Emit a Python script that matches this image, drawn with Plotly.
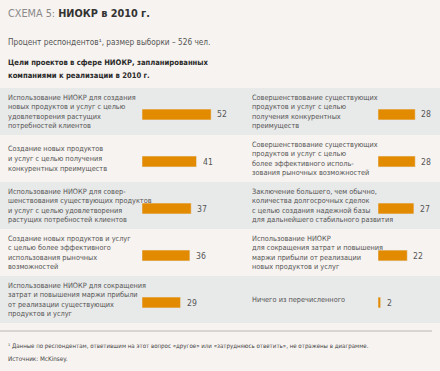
import plotly.graph_objects as go

W, H = 440, 371

left_labels = [
    "Использование НИОКР для создания<br>новых продуктов и услуг с целью<br>удовлетворения растущих<br>потребностей клиентов",
    "Создание новых продуктов<br>и услуг с целью получения<br>конкурентных преимуществ",
    "Использование НИОКР для совер-<br>шенствования существующих продуктов<br>и услуг с целью удовлетворения<br>растущих потребностей клиентов",
    "Создание новых продуктов и услуг<br>с целью более эффективного<br>использования рыночных<br>возможностей",
    "Использование НИОКР для сокращения<br>затрат и повышения маржи прибыли<br>от реализации существующих<br>продуктов и услуг",
]
left_values = [52, 41, 37, 36, 29]

right_labels = [
    "Совершенствование существующих<br>продуктов и услуг с целью<br>получения конкурентных<br>преимуществ",
    "Совершенствование существующих<br>продуктов и услуг с целью<br>более эффективного исполь-<br>зования рыночных возможностей",
    "Заключение большего, чем обычно,<br>количества долгосрочных сделок<br>с целью создания надежной базы<br>для дальнейшего стабильного развития",
    "Использование НИОКР<br>для сокращения затрат и повышения<br>маржи прибыли от реализации<br>новых продуктов и услуг",
    "Ничего из перечисленного",
]
right_values = [28, 28, 27, 22, 2]

title_pre = "СХЕМА 5:"
title_main = "НИОКР в 2010 г."
subtitle = "Процент респондентов¹, размер выборки – 526 чел."
heading = ["Цели проектов в сфере НИОКР, запланированных", "компаниями к реализации в 2010 г."]
footnote = "¹ Данные по респондентам, ответившим на этот вопрос «другое» или «затрудняюсь ответить», не отражены в диаграмме."
source = "Источник: McKinsey."

BG = "#f7f3f0"
BAND = "#e8e9e9"
ORANGE = "#e38b00"
TXT = "#555555"
FONT = "DejaVu Sans Condensed, Roboto, sans-serif"

def px(x):
    return x / W

def py(y):
    return 1 - y / H

rows_y = list(range(len(left_values)))
band_top = 88
band_h = 47

fig = go.Figure()
fig.add_trace(go.Bar(x=left_values, y=rows_y, orientation="h", marker_color=ORANGE,
                     width=0.23, xaxis="x", yaxis="y", hoverinfo="x"))
fig.add_trace(go.Bar(x=right_values, y=rows_y, orientation="h", marker_color=ORANGE,
                     width=0.23, xaxis="x2", yaxis="y", hoverinfo="x"))

shapes = []
for i in range(len(left_values)):
    if i % 2 == 0:
        shapes.append(dict(type="rect", xref="paper", yref="paper", x0=0, x1=1,
                           y0=py(band_top + (i + 1) * band_h), y1=py(band_top + i * band_h),
                           fillcolor=BAND, line_width=0, layer="below"))
shapes.append(dict(type="line", xref="paper", yref="paper", x0=0, x1=px(432),
                   y0=py(331), y1=py(331), line=dict(color="#b8b8b8", width=1)))

ann = []
LS = 9.6
def add_label(text, x, i):
    lines = text.split("<br>")
    c = band_top + i * band_h + band_h / 2
    start = c - (len(lines) - 1) * LS / 2
    for k, ln in enumerate(lines):
        ann.append(dict(text=ln, xref="paper", yref="paper", x=px(x), y=py(start + k * LS),
                        xanchor="left", yanchor="middle", showarrow=False,
                        font=dict(family=FONT, size=7.3, color=TXT)))

for i, t in enumerate(left_labels):
    add_label(t, 6, i)
for i, t in enumerate(right_labels):
    add_label(t, 250, i)

for i, v in enumerate(left_values):
    ann.append(dict(text=str(v), xref="x", yref="y", x=v, y=i, xanchor="left", xshift=4,
                    yanchor="middle", showarrow=False, font=dict(family=FONT, size=8.6, color=TXT)))
for i, v in enumerate(right_values):
    ann.append(dict(text=str(v), xref="x2", yref="y", x=v, y=i, xanchor="left", xshift=4,
                    yanchor="middle", showarrow=False, font=dict(family=FONT, size=8.6, color=TXT)))

ann.append(dict(text=f"<span style='color:#8a8a8a'>{title_pre}</span> <b>{title_main}</b>",
                xref="paper", yref="paper", x=px(6), y=py(13), xanchor="left", yanchor="middle",
                showarrow=False, font=dict(family=FONT, size=10.8, color="#333333")))
ann.append(dict(text=subtitle, xref="paper", yref="paper", x=px(6), y=py(42), xanchor="left",
                yanchor="middle", showarrow=False, font=dict(family=FONT, size=8.2, color=TXT)))
for k, h in enumerate(heading):
    ann.append(dict(text=f"<b>{h}</b>", xref="paper", yref="paper", x=px(6), y=py(63 + k * 12.5),
                    xanchor="left", yanchor="middle", showarrow=False,
                    font=dict(family=FONT, size=7.6, color="#2a2a2a")))
ann.append(dict(text=footnote, xref="paper", yref="paper", x=px(6), y=py(346), xanchor="left",
                yanchor="middle", showarrow=False, font=dict(family=FONT, size=6.1, color="#444444")))
ann.append(dict(text=source, xref="paper", yref="paper", x=px(6), y=py(359), xanchor="left",
                yanchor="middle", showarrow=False, font=dict(family=FONT, size=6.3, color="#444444")))

scale = 1.33  # px per unit
fig.update_layout(
    width=W, height=H, autosize=False,
    margin=dict(l=0, r=0, t=0, b=0),
    paper_bgcolor=BG, plot_bgcolor="rgba(0,0,0,0)",
    showlegend=False, barmode="overlay",
    xaxis=dict(domain=[px(142), px(142 + 100 * scale)], range=[0, 100], visible=False, fixedrange=True),
    xaxis2=dict(domain=[px(378), 1], range=[0, (W - 378) / scale], visible=False, fixedrange=True),
    yaxis=dict(domain=[py(band_top + 5 * band_h + 3), py(band_top + 3)], range=[4.5, -0.5],
               visible=False, fixedrange=True),
    shapes=shapes, annotations=ann,
)

fig.write_html("out.html", config={"displayModeBar": False},
               post_script="document.body.style.margin='0';document.body.style.background='%s';" % BG)
